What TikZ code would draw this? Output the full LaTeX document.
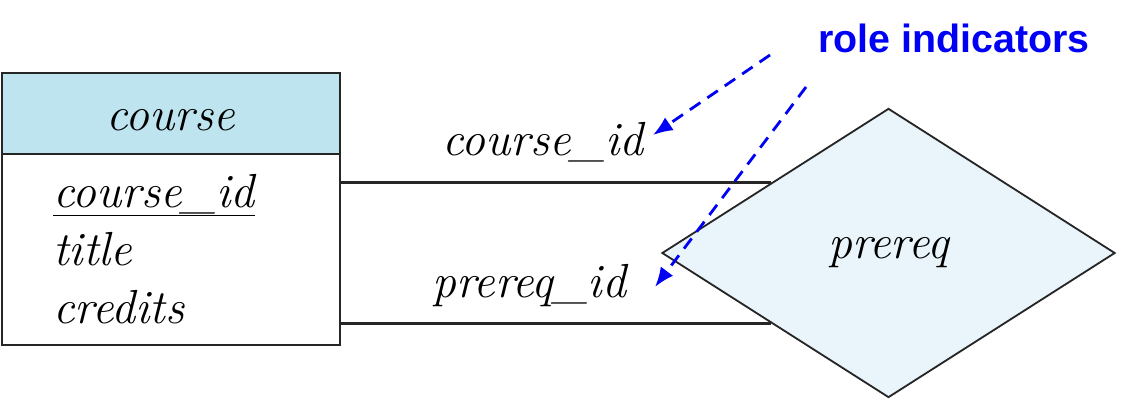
\documentclass[tikz,border=0pt]{standalone}
\usepackage{fontspec}
\newfontfamily\rolefont{Liberation Sans}
\usetikzlibrary{shapes.geometric, arrows.meta, positioning}
\definecolor{headblue}{RGB}{190,228,240}
\definecolor{relblue}{RGB}{233,245,251}
\definecolor{roleblue}{RGB}{0,0,245}
\tikzset{
	erfont/.style={font=\fontsize{34}{41}\selectfont\itshape},
	entityhead/.style={draw=black!85, line width=1.5pt, fill=headblue, minimum width=8.45cm, minimum height=2.025cm, inner sep=0pt, text height=23.5pt, text depth=0pt, erfont},
	entitybody/.style={draw=black!85, line width=1.5pt, fill=white, minimum width=8.45cm, minimum height=4.775cm, inner sep=0pt},
	attr/.style={anchor=base west, inner sep=0pt, erfont},
	relship/.style={diamond, draw=black!85, line width=1.3pt, fill=relblue, minimum width=11.325cm, minimum height=7.225cm, inner sep=0pt, erfont},
	conn/.style={draw=black!85, line width=1.5pt},
	rolearrow/.style={roleblue, line width=2pt, dash pattern=on 9pt off 6pt, -{Latex[length=14pt,width=11pt]}},
}
\begin{document}
\begin{tikzpicture}[x=0.025cm,y=-0.025cm]
	\useasboundingbox (0,0) rectangle (1128,400);
	\node[entityhead] (course) at (171,113.5) {course};
	\node[entitybody] (body) at (171,249.5) {};
	\node[attr] (cid) at (53,207) {\underline{course\_id}};
	\node[attr] (title) at (53,265) {title};
	\node[attr] (credits) at (53,323) {credits};
	\node[relship] (prereq) at (888.5,253) {prereq};
	\draw[conn] (prereq.149) -- (prereq.149 -| body.east);
	\draw[conn] (prereq.211) -- (prereq.211 -| body.east);
	\node[attr] (cidrole) at (442,155) {course\_id};
	\node[attr] (prerole) at (432,297) {prereq\_id};
	\node[font=\rolefont\bfseries\fontsize{28}{30}\selectfont, text=roleblue, inner sep=0pt] (roles) at (954,38) {role indicators};
	\coordinate (r1) at (770,55);
	\coordinate (r2) at (806,87);
	\coordinate (c1) at (653,135);
	\coordinate (c2) at (655,287);
	\draw[rolearrow] (r1) -- (c1);
	\draw[rolearrow] (r2) -- (c2);
\end{tikzpicture}
\end{document}
